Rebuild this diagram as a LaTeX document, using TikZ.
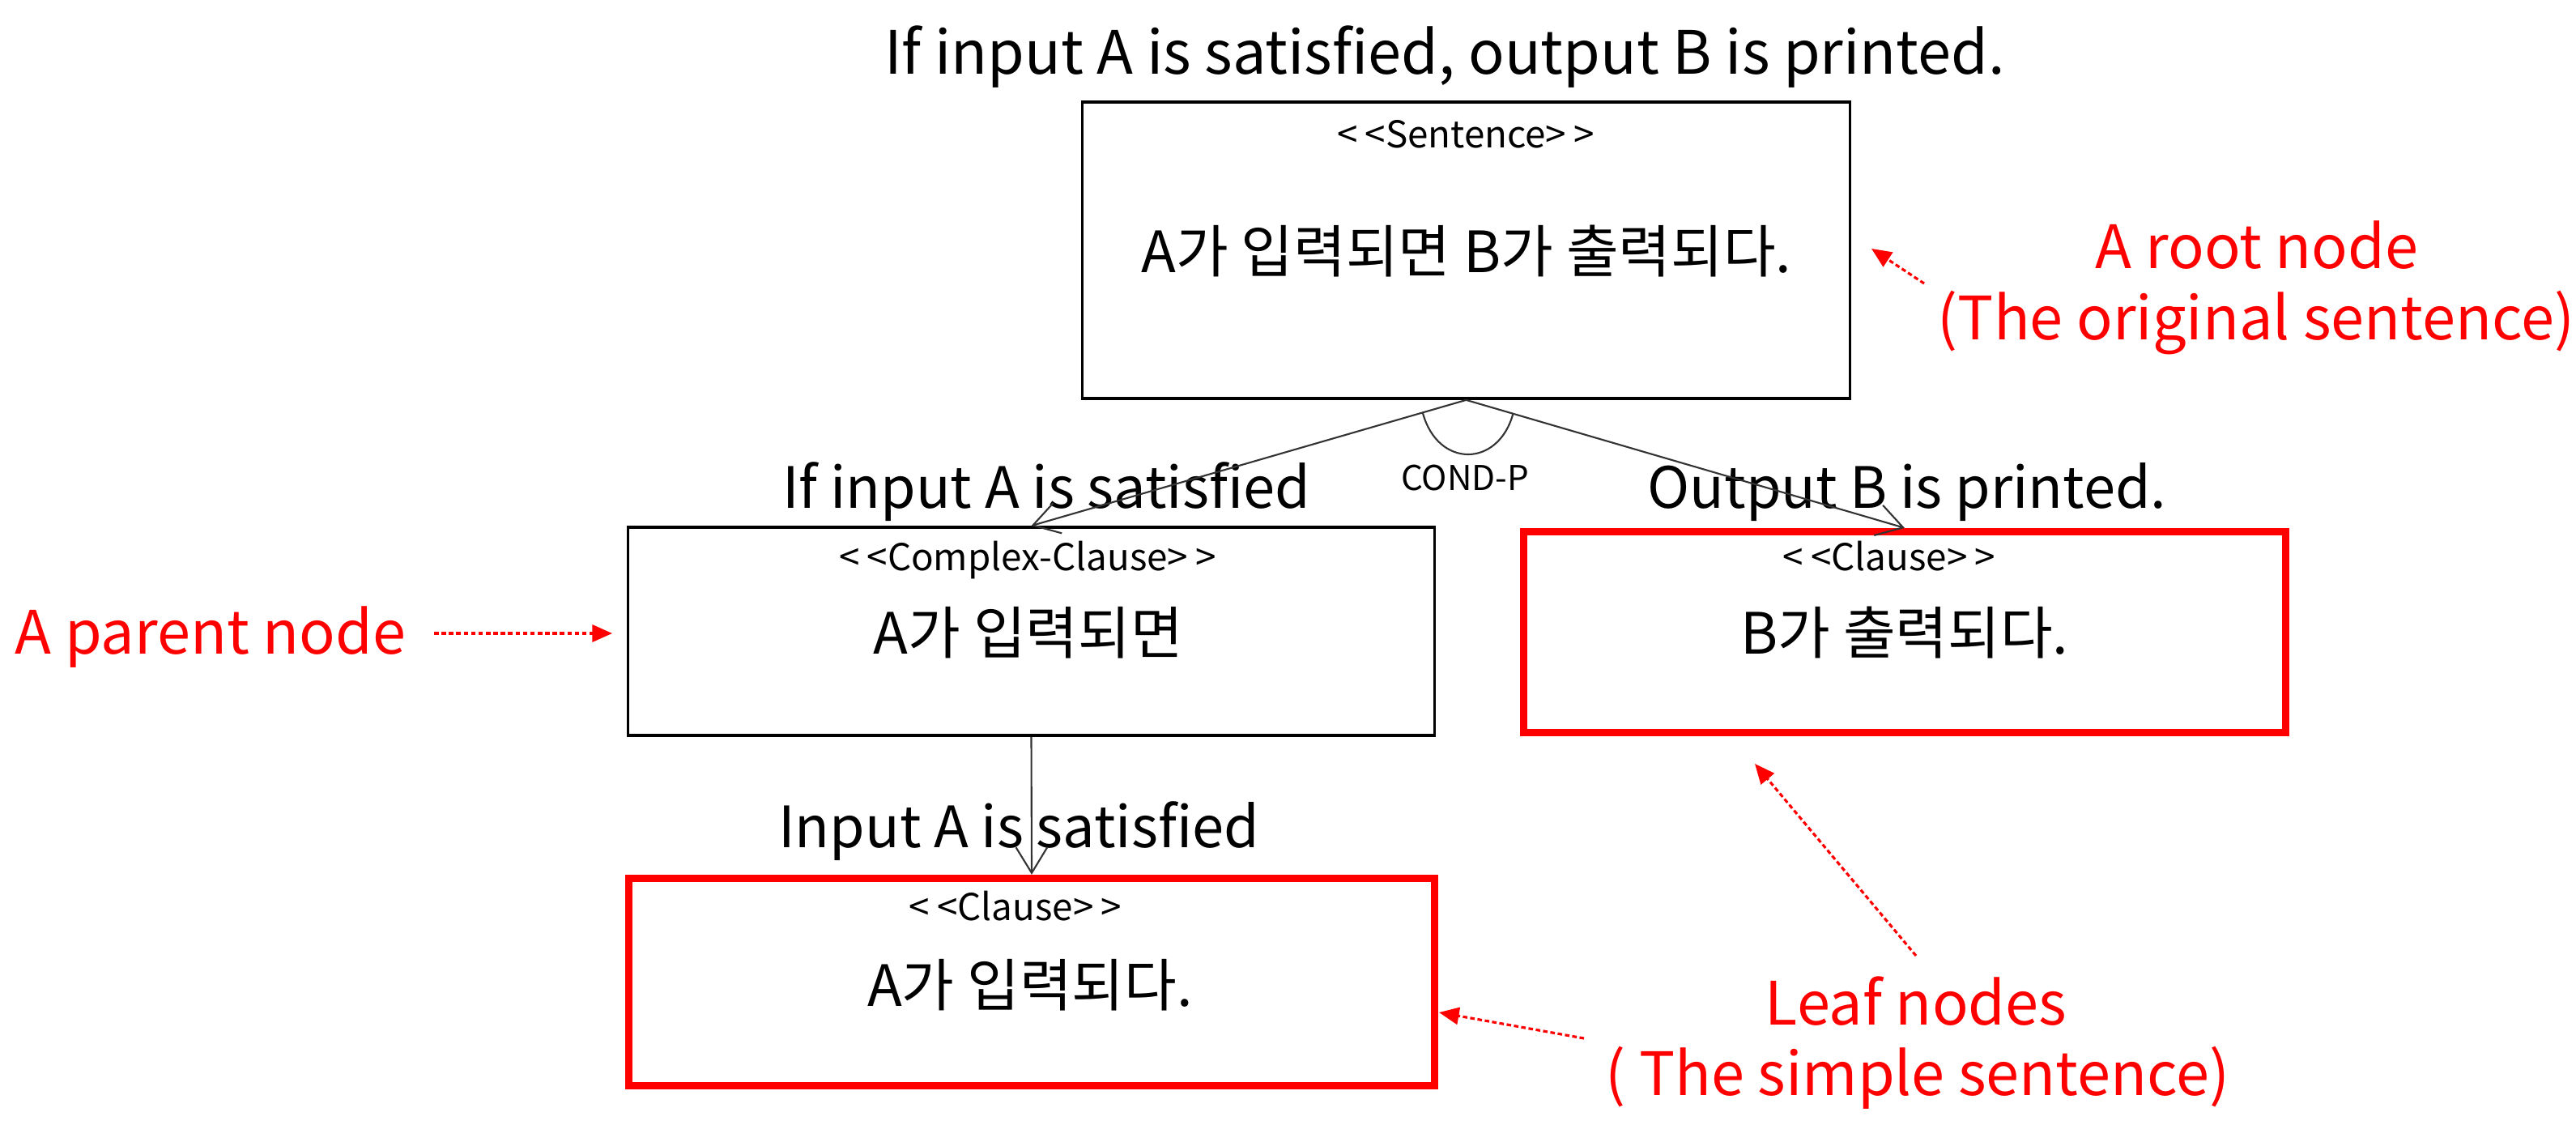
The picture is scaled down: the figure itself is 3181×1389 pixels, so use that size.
\documentclass[tikz,border=0pt]{standalone}
\usepackage{fontspec}
\setmainfont{Noto Sans CJK KR}
\usetikzlibrary{arrows.meta,calc}
\definecolor{pured}{RGB}{255,0,0}
\newcommand{\stq}[1]{<\kern0.2em<#1>\kern0.2em>}
\tikzset{
  blackbox/.style={draw=black,line width=1pt,rectangle,inner sep=0pt},
  redbox/.style={draw=pured,line width=2.6pt,rectangle,inner sep=0pt},
  txt/.style={inner sep=0pt,anchor=base},
  stereo/.style={txt,font=\fontsize{13}{15}\selectfont},
  kor/.style={txt,font=\fontsize{20}{24}\selectfont},
  eng/.style={txt,font=\fontsize{20}{24}\selectfont},
  big/.style={txt,font=\fontsize{21}{25}\selectfont},
  note/.style={txt,text=pured,font=\fontsize{21}{25}\selectfont},
  conn/.style={draw=black!80,line width=0.6pt,-{Straight Barb[length=9pt,width=11pt]}},
  redarrow/.style={draw=pured,line width=0.9pt,dash pattern=on 1.6pt off 1pt,-{Triangle[length=7pt,width=6pt]}}
}
\begin{document}
\begin{tikzpicture}[x=0.01cm,y=-0.01cm]
\useasboundingbox (0,0) rectangle (3181,1389);
% boxes
\node[blackbox,minimum width=9.47cm,minimum height=3.66cm] (root) at (1810.5,309) {};
\node[blackbox,minimum width=9.95cm,minimum height=2.57cm] (lbox) at (1273.5,779.5) {};
\node[redbox,minimum width=9.40cm,minimum height=2.48cm] (rbox) at (2352,780.5) {};
\node[redbox,minimum width=9.94cm,minimum height=2.56cm] (bbox) at (1274,1212.5) {};
% texts
\node[big] (title) at (1784,92) {If input A is satisfied, output B is printed.};
\node[stereo] (st1) at (1810,183) {\stq{Sentence}};
\node[kor] (k1) at (1811,337) {A가 입력되면 B가 출력되다.};
\node[stereo] (st2) at (1269,705) {\stq{Complex-Clause}};
\node[kor] (k2) at (1270,808) {A가 입력되면};
\node[stereo] (st3) at (2333,705) {\stq{Clause}};
\node[kor] (k3) at (2352,808) {B가 출력되다.};
\node[stereo] (st4) at (1254,1137) {\stq{Clause}};
\node[kor] (k4) at (1272,1242) {A가 입력되다.};
\node[eng] (e1) at (1292,628) {If input A is satisfied};
\node[eng] (e2) at (2355,628) {Output B is printed.};
\node[eng] (e3) at (1258,1047) {Input A is satisfied};
\node[txt,font=\fontsize{12}{14}\selectfont] (cond) at (1809,606) {COND-P};
% connectors
\draw[conn] (root.south) -- (lbox.north);
\draw[conn] (root.south) -- (rbox.north);
\draw[conn] (lbox.south) -- (bbox.north);
\draw[draw=black!80,line width=0.6pt] ($(root.south)!0.1!(lbox.north)$) .. controls (1775,578) and (1850,578) .. ($(root.south)!0.107!(rbox.north)$);
% annotations
\node[note] (n1) at (2787,332) {A root node};
\node[note] (n2) at (2786,420) {(The original sentence)};
\node[note] (n3) at (260,808) {A parent node};
\node[note] (n4) at (2366,1265) {Leaf nodes};
\node[note] (n5) at (2368,1352) {( The simple sentence)};
\coordinate (a1s) at (2376,350); \coordinate (a1e) at (2311,307);
\coordinate (a2s) at (536,782); \coordinate (a2e) at (756,782);
\coordinate (a3s) at (2366,1180); \coordinate (a3e) at (2167,943);
\coordinate (a4s) at (1956,1282); \coordinate (a4e) at (1777,1250);
\draw[redarrow] (a1s) -- (a1e);
\draw[redarrow] (a2s) -- (a2e);
\draw[redarrow] (a3s) -- (a3e);
\draw[redarrow] (a4s) -- (a4e);
\end{tikzpicture}
\end{document}
